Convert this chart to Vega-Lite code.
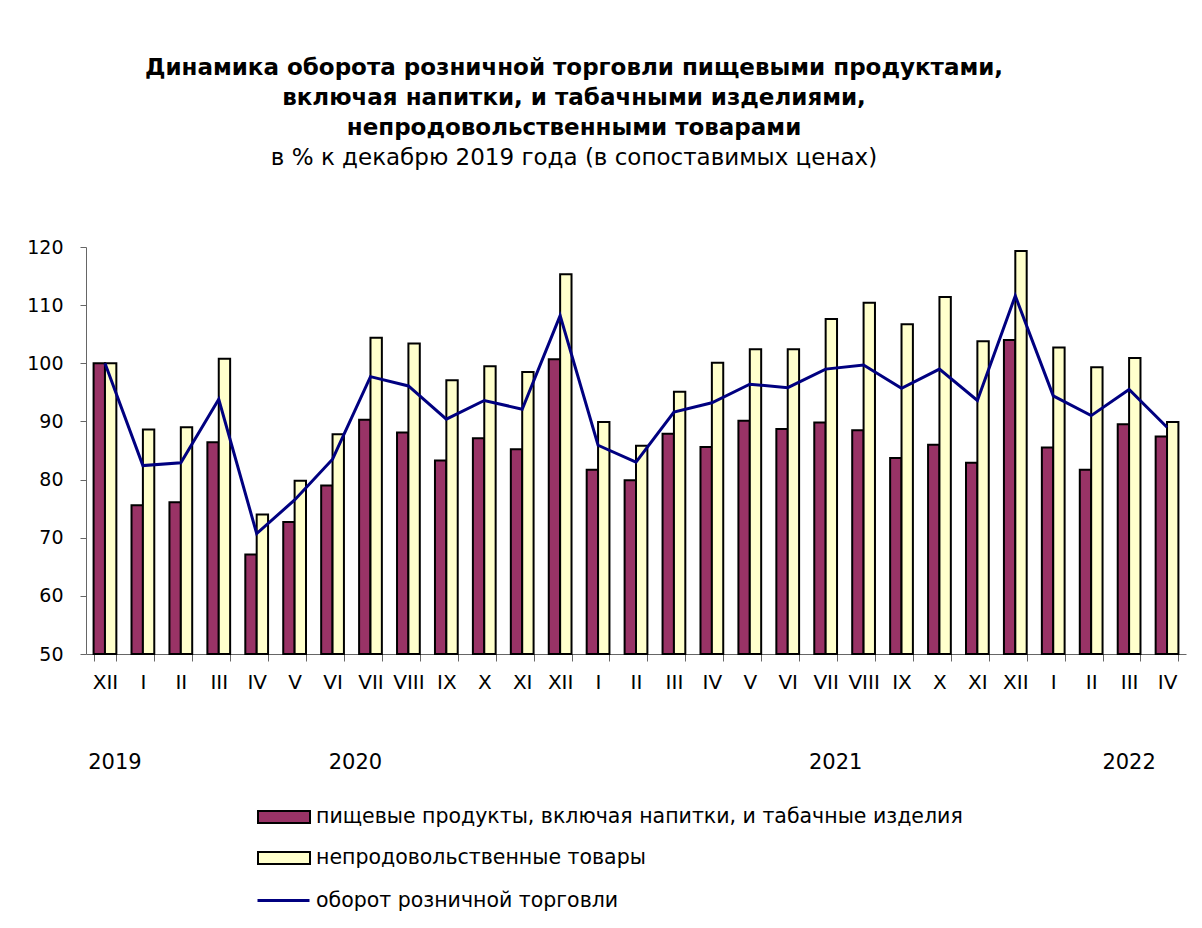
{
  "$schema": "https://vega.github.io/schema/vega-lite/v6.json",
  "width": 1100,
  "height": 407,
  "autosize": {"type": "none"},
  "padding": {"left": 86, "top": 247, "right": 16, "bottom": 274},
  "background": "white",
  "title": {
    "text": ["Динамика оборота розничной торговли пищевыми продуктами,", "включая напитки, и табачными изделиями,", "непродовольственными товарами"],
    "subtitle": "в % к декабрю 2019 года (в сопоставимых ценах)",
    "anchor": "middle",
    "dx": -62,
    "offset": 68,
    "fontSize": 23,
    "fontWeight": "bold",
    "lineHeight": 30,
    "subtitleFontSize": 23,
    "subtitleFontWeight": "normal",
    "subtitleLineHeight": 30,
    "subtitlePadding": 7,
    "color": "black",
    "subtitleColor": "black"
  },
  "datasets": {
    "bars": [
      {"cat": "XII 2019", "series": "пищевые продукты, включая напитки, и табачные изделия", "value": 100},
      {"cat": "XII 2019", "series": "непродовольственные товары", "value": 100},
      {"cat": "I 2020", "series": "пищевые продукты, включая напитки, и табачные изделия", "value": 75.6},
      {"cat": "I 2020", "series": "непродовольственные товары", "value": 88.6},
      {"cat": "II 2020", "series": "пищевые продукты, включая напитки, и табачные изделия", "value": 76.1},
      {"cat": "II 2020", "series": "непродовольственные товары", "value": 89.0},
      {"cat": "III 2020", "series": "пищевые продукты, включая напитки, и табачные изделия", "value": 86.4},
      {"cat": "III 2020", "series": "непродовольственные товары", "value": 100.8},
      {"cat": "IV 2020", "series": "пищевые продукты, включая напитки, и табачные изделия", "value": 67.1},
      {"cat": "IV 2020", "series": "непродовольственные товары", "value": 74.0},
      {"cat": "V 2020", "series": "пищевые продукты, включая напитки, и табачные изделия", "value": 72.7},
      {"cat": "V 2020", "series": "непродовольственные товары", "value": 79.8},
      {"cat": "VI 2020", "series": "пищевые продукты, включая напитки, и табачные изделия", "value": 79.0},
      {"cat": "VI 2020", "series": "непродовольственные товары", "value": 87.8},
      {"cat": "VII 2020", "series": "пищевые продукты, включая напитки, и табачные изделия", "value": 90.3},
      {"cat": "VII 2020", "series": "непродовольственные товары", "value": 104.4},
      {"cat": "VIII 2020", "series": "пищевые продукты, включая напитки, и табачные изделия", "value": 88.1},
      {"cat": "VIII 2020", "series": "непродовольственные товары", "value": 103.4},
      {"cat": "IX 2020", "series": "пищевые продукты, включая напитки, и табачные изделия", "value": 83.3},
      {"cat": "IX 2020", "series": "непродовольственные товары", "value": 97.1},
      {"cat": "X 2020", "series": "пищевые продукты, включая напитки, и табачные изделия", "value": 87.1},
      {"cat": "X 2020", "series": "непродовольственные товары", "value": 99.5},
      {"cat": "XI 2020", "series": "пищевые продукты, включая напитки, и табачные изделия", "value": 85.2},
      {"cat": "XI 2020", "series": "непродовольственные товары", "value": 98.5},
      {"cat": "XII 2020", "series": "пищевые продукты, включая напитки, и табачные изделия", "value": 100.7},
      {"cat": "XII 2020", "series": "непродовольственные товары", "value": 115.3},
      {"cat": "I 2021", "series": "пищевые продукты, включая напитки, и табачные изделия", "value": 81.7},
      {"cat": "I 2021", "series": "непродовольственные товары", "value": 89.9},
      {"cat": "II 2021", "series": "пищевые продукты, включая напитки, и табачные изделия", "value": 79.9},
      {"cat": "II 2021", "series": "непродовольственные товары", "value": 85.8},
      {"cat": "III 2021", "series": "пищевые продукты, включая напитки, и табачные изделия", "value": 87.9},
      {"cat": "III 2021", "series": "непродовольственные товары", "value": 95.1},
      {"cat": "IV 2021", "series": "пищевые продукты, включая напитки, и табачные изделия", "value": 85.6},
      {"cat": "IV 2021", "series": "непродовольственные товары", "value": 100.1},
      {"cat": "V 2021", "series": "пищевые продукты, включая напитки, и табачные изделия", "value": 90.1},
      {"cat": "V 2021", "series": "непродовольственные товары", "value": 102.4},
      {"cat": "VI 2021", "series": "пищевые продукты, включая напитки, и табачные изделия", "value": 88.7},
      {"cat": "VI 2021", "series": "непродовольственные товары", "value": 102.4},
      {"cat": "VII 2021", "series": "пищевые продукты, включая напитки, и табачные изделия", "value": 89.8},
      {"cat": "VII 2021", "series": "непродовольственные товары", "value": 107.6},
      {"cat": "VIII 2021", "series": "пищевые продукты, включая напитки, и табачные изделия", "value": 88.5},
      {"cat": "VIII 2021", "series": "непродовольственные товары", "value": 110.4},
      {"cat": "IX 2021", "series": "пищевые продукты, включая напитки, и табачные изделия", "value": 83.7},
      {"cat": "IX 2021", "series": "непродовольственные товары", "value": 106.7},
      {"cat": "X 2021", "series": "пищевые продукты, включая напитки, и табачные изделия", "value": 86.0},
      {"cat": "X 2021", "series": "непродовольственные товары", "value": 111.4},
      {"cat": "XI 2021", "series": "пищевые продукты, включая напитки, и табачные изделия", "value": 82.9},
      {"cat": "XI 2021", "series": "непродовольственные товары", "value": 103.8},
      {"cat": "XII 2021", "series": "пищевые продукты, включая напитки, и табачные изделия", "value": 104.0},
      {"cat": "XII 2021", "series": "непродовольственные товары", "value": 119.3},
      {"cat": "I 2022", "series": "пищевые продукты, включая напитки, и табачные изделия", "value": 85.5},
      {"cat": "I 2022", "series": "непродовольственные товары", "value": 102.7},
      {"cat": "II 2022", "series": "пищевые продукты, включая напитки, и табачные изделия", "value": 81.7},
      {"cat": "II 2022", "series": "непродовольственные товары", "value": 99.3},
      {"cat": "III 2022", "series": "пищевые продукты, включая напитки, и табачные изделия", "value": 89.5},
      {"cat": "III 2022", "series": "непродовольственные товары", "value": 100.9},
      {"cat": "IV 2022", "series": "пищевые продукты, включая напитки, и табачные изделия", "value": 87.4},
      {"cat": "IV 2022", "series": "непродовольственные товары", "value": 89.9}
    ],
    "line": [
      {"cat": "XII 2019", "series": "оборот розничной торговли", "value": 100},
      {"cat": "I 2020", "series": "оборот розничной торговли", "value": 82.4},
      {"cat": "II 2020", "series": "оборот розничной торговли", "value": 82.9},
      {"cat": "III 2020", "series": "оборот розничной торговли", "value": 93.8},
      {"cat": "IV 2020", "series": "оборот розничной торговли", "value": 70.7},
      {"cat": "V 2020", "series": "оборот розничной торговли", "value": 76.5},
      {"cat": "VI 2020", "series": "оборот розничной торговли", "value": 83.5},
      {"cat": "VII 2020", "series": "оборот розничной торговли", "value": 97.7},
      {"cat": "VIII 2020", "series": "оборот розничной торговли", "value": 96.1},
      {"cat": "IX 2020", "series": "оборот розничной торговли", "value": 90.4},
      {"cat": "X 2020", "series": "оборот розничной торговли", "value": 93.6},
      {"cat": "XI 2020", "series": "оборот розничной торговли", "value": 92.1},
      {"cat": "XII 2020", "series": "оборот розничной торговли", "value": 108.2},
      {"cat": "I 2021", "series": "оборот розничной торговли", "value": 85.9},
      {"cat": "II 2021", "series": "оборот розничной торговли", "value": 83.0},
      {"cat": "III 2021", "series": "оборот розничной торговли", "value": 91.6},
      {"cat": "IV 2021", "series": "оборот розничной торговли", "value": 93.2},
      {"cat": "V 2021", "series": "оборот розничной торговли", "value": 96.4},
      {"cat": "VI 2021", "series": "оборот розничной торговли", "value": 95.8},
      {"cat": "VII 2021", "series": "оборот розничной торговли", "value": 99.0},
      {"cat": "VIII 2021", "series": "оборот розничной торговли", "value": 99.7},
      {"cat": "IX 2021", "series": "оборот розничной торговли", "value": 95.7},
      {"cat": "X 2021", "series": "оборот розничной торговли", "value": 99.0},
      {"cat": "XI 2021", "series": "оборот розничной торговли", "value": 93.6},
      {"cat": "XII 2021", "series": "оборот розничной торговли", "value": 111.6},
      {"cat": "I 2022", "series": "оборот розничной торговли", "value": 94.4},
      {"cat": "II 2022", "series": "оборот розничной торговли", "value": 91.0},
      {"cat": "III 2022", "series": "оборот розничной торговли", "value": 95.5},
      {"cat": "IV 2022", "series": "оборот розничной торговли", "value": 89.0}
    ],
    "yearsA": [
      {"cat": "XII 2019", "year": "2019"},
      {"cat": "VII 2021", "year": "2021"}
    ],
    "yearsB": [
      {"cat": "VII 2020", "year": "2020"}
    ],
    "yearsC": [
      {"cat": "III 2022", "year": "2022"}
    ]
  },
  "layer": [
    {
      "data": {"name": "bars"},
      "mark": {"type": "bar", "stroke": "black", "strokeWidth": 2},
      "encoding": {
        "x": {
          "field": "cat",
          "type": "nominal",
          "scale": {
            "domain": ["XII 2019", "I 2020", "II 2020", "III 2020", "IV 2020", "V 2020", "VI 2020", "VII 2020", "VIII 2020", "IX 2020", "X 2020", "XI 2020", "XII 2020", "I 2021", "II 2021", "III 2021", "IV 2021", "V 2021", "VI 2021", "VII 2021", "VIII 2021", "IX 2021", "X 2021", "XI 2021", "XII 2021", "I 2022", "II 2022", "III 2022", "IV 2022"],
            "paddingInner": 0.4,
            "paddingOuter": 0.2
          },
          "axis": {
            "title": null,
            "labelExpr": "isValid(datum.value) ? split(datum.value, ' ')[0] : ''",
            "labelAngle": 0,
            "labelFontSize": 20,
            "labelColor": "black",
            "labelPadding": 11,
            "tickBand": "extent",
            "tickSize": 7,
            "tickColor": "#666666",
            "domainColor": "#666666",
            "grid": false
          }
        },
        "xOffset": {
          "field": "series",
          "type": "nominal",
          "scale": {"domain": ["пищевые продукты, включая напитки, и табачные изделия", "непродовольственные товары"], "paddingInner": 0, "paddingOuter": 0}
        },
        "y": {
          "field": "value",
          "type": "quantitative",
          "scale": {"domain": [50, 120], "nice": false, "zero": false},
          "axis": {
            "title": null,
            "values": [50, 60, 70, 80, 90, 100, 110, 120],
            "labelFontSize": 19,
            "labelColor": "black",
            "labelPadding": 17,
            "tickSize": 6,
            "tickColor": "#666666",
            "domainColor": "#666666",
            "grid": false
          }
        },
        "y2": {"datum": 50},
        "fill": {
          "field": "series",
          "type": "nominal",
          "scale": {"domain": ["пищевые продукты, включая напитки, и табачные изделия", "непродовольственные товары"], "range": ["#993366", "#FFFFCC"]},
          "legend": {
            "title": null,
            "orient": "none",
            "legendX": 184,
            "legendY": 556,
            "symbolType": "M-2,-0.46H2V0.46H-2Z",
            "symbolSize": 676,
            "symbolStrokeColor": "black",
            "symbolStrokeWidth": 2,
            "symbolOpacity": 1,
            "labelFontSize": 20.5,
            "labelColor": "black",
            "labelOffset": 18,
            "labelLimit": 0,
            "rowPadding": 16
          }
        }
      }
    },
    {
      "data": {"name": "line"},
      "mark": {"type": "line", "strokeWidth": 3},
      "encoding": {
        "x": {"field": "cat", "type": "nominal"},
        "y": {"field": "value", "type": "quantitative"},
        "stroke": {
          "field": "series",
          "type": "nominal",
          "scale": {"domain": ["оборот розничной торговли"], "range": ["#000080"]},
          "legend": {
            "title": null,
            "orient": "none",
            "legendX": 170,
            "legendY": 626,
            "symbolType": "stroke",
            "symbolSize": 2704,
            "symbolStrokeWidth": 3,
            "labelFontSize": 20.5,
            "labelColor": "black",
            "labelOffset": 5,
            "labelLimit": 0
          }
        }
      }
    },
    {
      "data": {"name": "yearsA"},
      "mark": {"type": "text", "fontSize": 21, "dx": 10, "baseline": "middle", "color": "black"},
      "encoding": {
        "x": {"field": "cat", "type": "nominal"},
        "y": {"datum": 31.3, "type": "quantitative"},
        "text": {"field": "year"}
      }
    },
    {
      "data": {"name": "yearsB"},
      "mark": {"type": "text", "fontSize": 21, "dx": -15, "baseline": "middle", "color": "black"},
      "encoding": {
        "x": {"field": "cat", "type": "nominal"},
        "y": {"datum": 31.3, "type": "quantitative"},
        "text": {"field": "year"}
      }
    },
    {
      "data": {"name": "yearsC"},
      "mark": {"type": "text", "fontSize": 21, "baseline": "middle", "color": "black"},
      "encoding": {
        "x": {"field": "cat", "type": "nominal"},
        "y": {"datum": 31.3, "type": "quantitative"},
        "text": {"field": "year"}
      }
    }
  ],
  "config": {
    "font": "DejaVu Sans",
    "view": {"stroke": null}
  }
}
